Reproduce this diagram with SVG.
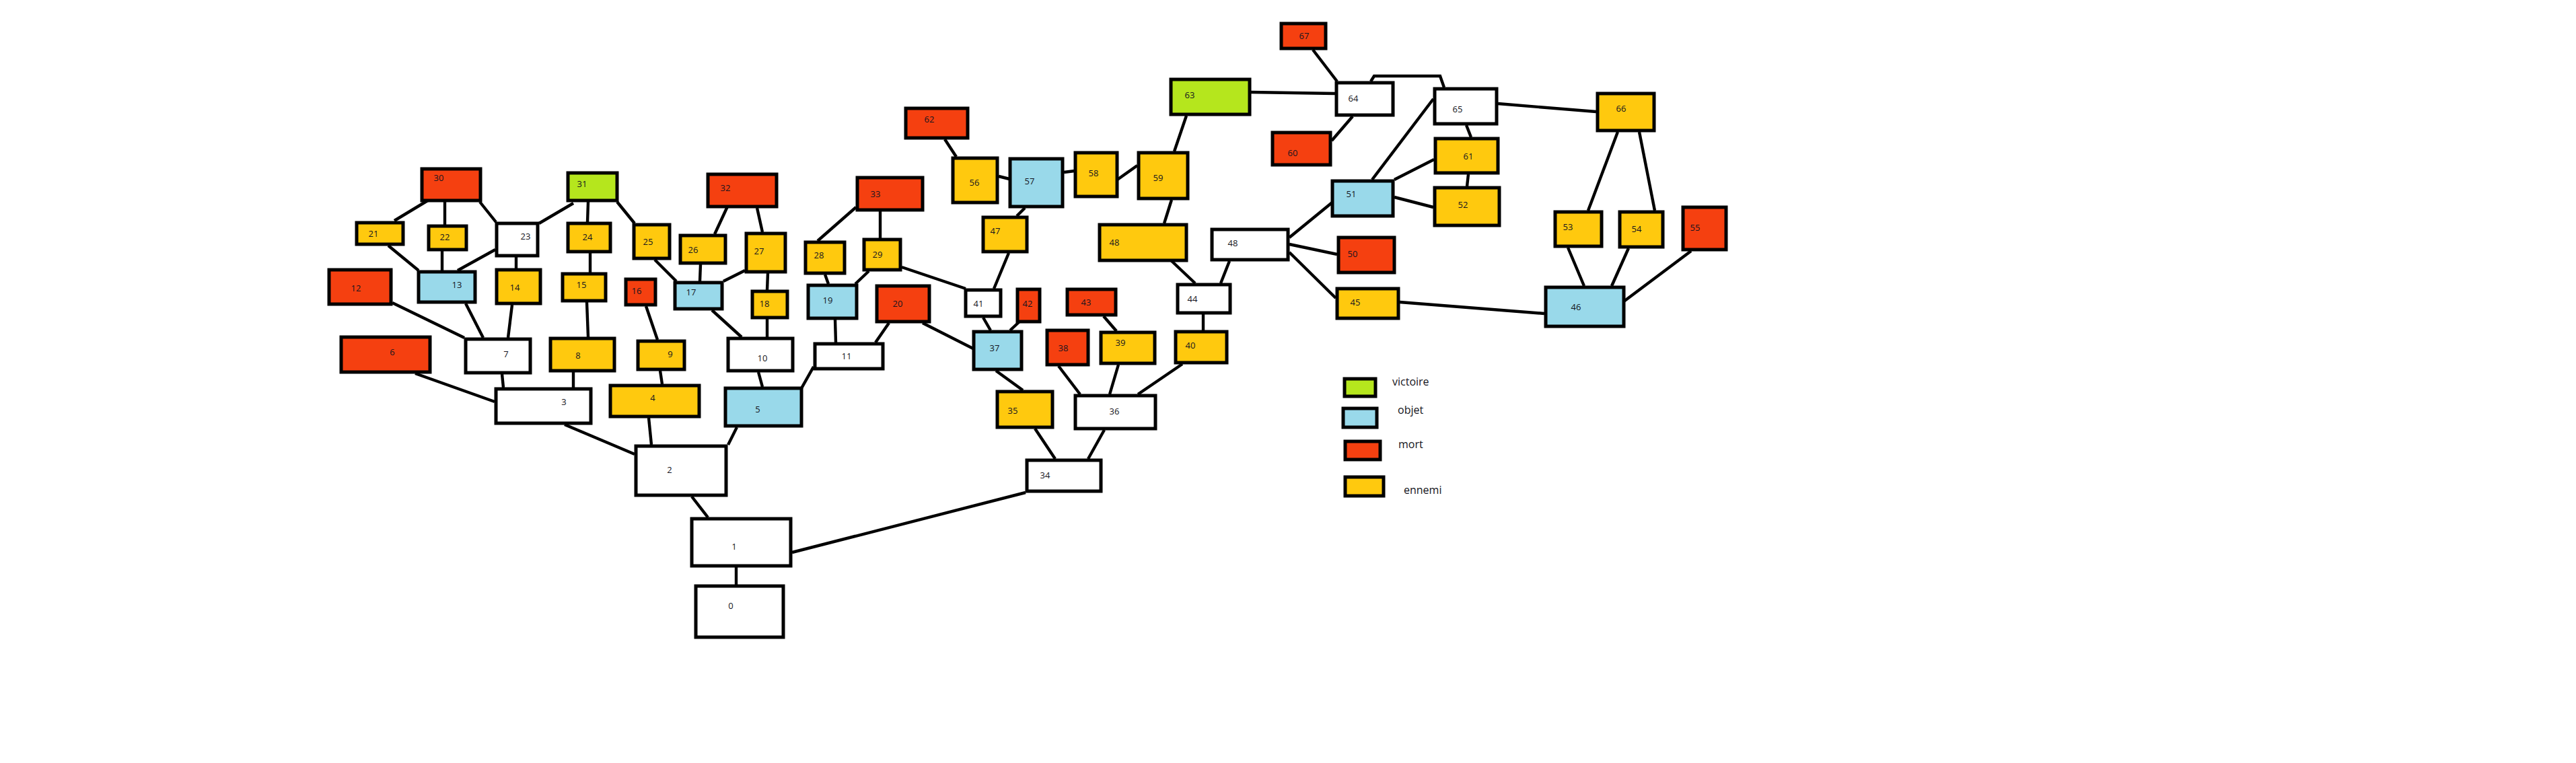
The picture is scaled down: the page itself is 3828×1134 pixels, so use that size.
<svg xmlns="http://www.w3.org/2000/svg" width="3828" height="1134" viewBox="0 0 3828 1134">
<style>
.n{stroke:#000;stroke-width:5}
.w{fill:#fff}.y{fill:#FFC90E}.r{fill:#F54010}.g{fill:#B5E61D}.b{fill:#99D9EA}
.t{font-family:"Open Sans","Noto Sans",sans-serif;font-size:13px;fill:#141420;text-anchor:middle}
.lg{font-family:"Open Sans","Noto Sans",sans-serif;font-size:16px;fill:#141420}
#connectors line,#connectors polyline{stroke:#000;stroke-width:4.4;fill:none}
</style>
<rect width="3828" height="1134" fill="#fff"/>
<g id="connectors">
<line x1="639" y1="296" x2="586" y2="328"/>
<line x1="661" y1="300" x2="661" y2="334"/>
<line x1="713" y1="300" x2="737" y2="330"/>
<line x1="852" y1="302" x2="801" y2="332"/>
<line x1="874" y1="300" x2="873" y2="330"/>
<line x1="917" y1="300" x2="943" y2="332"/>
<line x1="1081" y1="307" x2="1062" y2="348"/>
<line x1="1125" y1="309" x2="1133" y2="345"/>
<line x1="577" y1="365" x2="622" y2="402"/>
<line x1="657" y1="373" x2="657" y2="402"/>
<line x1="736" y1="371" x2="680" y2="402"/>
<line x1="767" y1="382" x2="767" y2="399"/>
<line x1="877" y1="376" x2="877" y2="405"/>
<line x1="973" y1="386" x2="1005" y2="418"/>
<line x1="1041" y1="393" x2="1040" y2="418"/>
<line x1="1107" y1="402" x2="1075" y2="418"/>
<line x1="1141" y1="406" x2="1140" y2="431"/>
<line x1="583" y1="450" x2="690" y2="502"/>
<line x1="692" y1="451" x2="718" y2="502"/>
<line x1="761" y1="453" x2="755" y2="502"/>
<line x1="872" y1="449" x2="874" y2="501"/>
<line x1="960" y1="455" x2="977" y2="505"/>
<line x1="1058" y1="461" x2="1102" y2="501"/>
<line x1="1140" y1="474" x2="1140" y2="501"/>
<line x1="1272" y1="308" x2="1215" y2="358"/>
<line x1="1308" y1="314" x2="1308" y2="354"/>
<line x1="1226" y1="408" x2="1231" y2="422"/>
<line x1="1291" y1="403" x2="1271" y2="422"/>
<line x1="1340" y1="397" x2="1435" y2="429"/>
<line x1="1241" y1="475" x2="1242" y2="509"/>
<line x1="1321" y1="480" x2="1301" y2="509"/>
<line x1="1371" y1="480" x2="1446" y2="518"/>
<line x1="1461" y1="472" x2="1472" y2="491"/>
<line x1="1515" y1="478" x2="1501" y2="491"/>
<line x1="1499" y1="376" x2="1477" y2="429"/>
<line x1="1523" y1="309" x2="1511" y2="321"/>
<line x1="1484" y1="262" x2="1500" y2="266"/>
<line x1="1581" y1="256" x2="1597" y2="254"/>
<line x1="1404" y1="207" x2="1421" y2="233"/>
<line x1="1659" y1="268" x2="1690" y2="246"/>
<line x1="1763" y1="172" x2="1745" y2="225"/>
<line x1="1741" y1="297" x2="1730" y2="332"/>
<line x1="1739" y1="386" x2="1776" y2="421"/>
<line x1="1827" y1="388" x2="1814" y2="421"/>
<line x1="1788" y1="467" x2="1788" y2="491"/>
<line x1="1640" y1="470" x2="1659" y2="492"/>
<line x1="1757" y1="541" x2="1691" y2="586"/>
<line x1="1662" y1="542" x2="1649" y2="586"/>
<line x1="1573" y1="544" x2="1605" y2="586"/>
<line x1="1480" y1="551" x2="1520" y2="580"/>
<line x1="1538" y1="637" x2="1568" y2="682"/>
<line x1="1641" y1="639" x2="1617" y2="682"/>
<line x1="1524" y1="732" x2="1177" y2="821"/>
<line x1="617" y1="555" x2="735" y2="597"/>
<line x1="746" y1="556" x2="748" y2="576"/>
<line x1="852" y1="553" x2="852" y2="576"/>
<line x1="981" y1="551" x2="984" y2="571"/>
<line x1="839" y1="631" x2="943" y2="675"/>
<line x1="964" y1="621" x2="968" y2="661"/>
<line x1="1095" y1="635" x2="1082" y2="661"/>
<line x1="1127" y1="553" x2="1133" y2="575"/>
<line x1="1209" y1="545" x2="1191" y2="577"/>
<line x1="1028" y1="738" x2="1052" y2="769"/>
<line x1="1094" y1="843" x2="1094" y2="869"/>
<line x1="1951" y1="74" x2="1987" y2="121"/>
<polyline points="1859,137 1921,138 1984,139"/>
<line x1="2010" y1="173" x2="1979" y2="209"/>
<polyline points="2037,121 2042,113 2140,113 2146,130"/>
<line x1="2130" y1="147" x2="2039" y2="267"/>
<line x1="2226" y1="154" x2="2372" y2="166"/>
<line x1="2179" y1="186" x2="2186" y2="204"/>
<line x1="2182" y1="259" x2="2180" y2="277"/>
<line x1="2131" y1="237" x2="2072" y2="267"/>
<line x1="2072" y1="293" x2="2130" y2="308"/>
<line x1="1916" y1="353" x2="1982" y2="299"/>
<line x1="1916" y1="363" x2="1987" y2="378"/>
<line x1="1916" y1="375" x2="1985" y2="443"/>
<line x1="2080" y1="449" x2="2295" y2="466"/>
<line x1="2404" y1="196" x2="2360" y2="313"/>
<line x1="2436" y1="196" x2="2459" y2="313"/>
<line x1="2330" y1="368" x2="2354" y2="425"/>
<line x1="2420" y1="369" x2="2395" y2="425"/>
<line x1="2513" y1="373" x2="2413" y2="448"/>
</g>
<g id="n0"><rect class="n w" x="1034" y="871" width="130" height="76"/><text class="t" x="1086" y="905">0</text></g>
<g id="n1"><rect class="n w" x="1028" y="771" width="147" height="70"/><text class="t" x="1091" y="817">1</text></g>
<g id="n2"><rect class="n w" x="945" y="663" width="134" height="73"/><text class="t" x="995" y="703">2</text></g>
<g id="n3"><rect class="n w" x="737" y="578" width="141" height="51"/><text class="t" x="838" y="602">3</text></g>
<g id="n4"><rect class="n y" x="907" y="573" width="132" height="46"/><text class="t" x="970" y="596">4</text></g>
<g id="n5"><rect class="n b" x="1078" y="577" width="113" height="56"/><text class="t" x="1126" y="613">5</text></g>
<g id="n6"><rect class="n r" x="507" y="501" width="132" height="52"/><text class="t" x="583" y="528">6</text></g>
<g id="n7"><rect class="n w" x="692" y="504" width="96" height="50"/><text class="t" x="752" y="531">7</text></g>
<g id="n8"><rect class="n y" x="818" y="503" width="95" height="48"/><text class="t" x="859" y="533">8</text></g>
<g id="n9"><rect class="n y" x="948" y="507" width="69" height="42"/><text class="t" x="996" y="531">9</text></g>
<g id="n10"><rect class="n w" x="1082" y="503" width="96" height="48"/><text class="t" x="1133" y="537">10</text></g>
<g id="n11"><rect class="n w" x="1211" y="511" width="101" height="37"/><text class="t" x="1258" y="534">11</text></g>
<g id="n12"><rect class="n r" x="489" y="401" width="92" height="51"/><text class="t" x="529" y="433">12</text></g>
<g id="n13"><rect class="n b" x="622" y="404" width="84" height="45"/><text class="t" x="679" y="428">13</text></g>
<g id="n14"><rect class="n y" x="738" y="401" width="65" height="50"/><text class="t" x="765" y="432">14</text></g>
<g id="n15"><rect class="n y" x="836" y="407" width="64" height="40"/><text class="t" x="864" y="428">15</text></g>
<g id="n16"><rect class="n r" x="930" y="415" width="44" height="38"/><text class="t" x="946" y="437">16</text></g>
<g id="n17"><rect class="n b" x="1003" y="420" width="70" height="39"/><text class="t" x="1027" y="439">17</text></g>
<g id="n18"><rect class="n y" x="1118" y="433" width="52" height="39"/><text class="t" x="1136" y="456">18</text></g>
<g id="n19"><rect class="n b" x="1201" y="424" width="72" height="49"/><text class="t" x="1230" y="451">19</text></g>
<g id="n20"><rect class="n r" x="1303" y="425" width="78" height="53"/><text class="t" x="1334" y="456">20</text></g>
<g id="n21"><rect class="n y" x="530" y="331" width="69" height="32"/><text class="t" x="555" y="352">21</text></g>
<g id="n22"><rect class="n y" x="637" y="336" width="56" height="35"/><text class="t" x="661" y="357">22</text></g>
<g id="n23"><rect class="n w" x="738" y="332" width="61" height="48"/><text class="t" x="781" y="356">23</text></g>
<g id="n24"><rect class="n y" x="844" y="332" width="63" height="42"/><text class="t" x="873" y="357">24</text></g>
<g id="n25"><rect class="n y" x="942" y="334" width="53" height="50"/><text class="t" x="963" y="364">25</text></g>
<g id="n26"><rect class="n y" x="1011" y="350" width="67" height="41"/><text class="t" x="1030" y="376">26</text></g>
<g id="n27"><rect class="n y" x="1109" y="347" width="58" height="57"/><text class="t" x="1128" y="378">27</text></g>
<g id="n28"><rect class="n y" x="1197" y="360" width="58" height="46"/><text class="t" x="1217" y="384">28</text></g>
<g id="n29"><rect class="n y" x="1284" y="356" width="54" height="45"/><text class="t" x="1304" y="383">29</text></g>
<g id="n30"><rect class="n r" x="627" y="251" width="87" height="47"/><text class="t" x="652" y="269">30</text></g>
<g id="n31"><rect class="n g" x="844" y="257" width="73" height="41"/><text class="t" x="865" y="278">31</text></g>
<g id="n32"><rect class="n r" x="1052" y="259" width="102" height="48"/><text class="t" x="1078" y="284">32</text></g>
<g id="n33"><rect class="n r" x="1274" y="264" width="97" height="48"/><text class="t" x="1301" y="293">33</text></g>
<g id="n34"><rect class="n w" x="1526" y="684" width="110" height="46"/><text class="t" x="1553" y="711">34</text></g>
<g id="n35"><rect class="n y" x="1482" y="582" width="82" height="53"/><text class="t" x="1505" y="615">35</text></g>
<g id="n36"><rect class="n w" x="1598" y="588" width="119" height="49"/><text class="t" x="1656" y="616">36</text></g>
<g id="n37"><rect class="n b" x="1447" y="493" width="71" height="56"/><text class="t" x="1478" y="522">37</text></g>
<g id="n38"><rect class="n r" x="1556" y="491" width="61" height="51"/><text class="t" x="1580" y="522">38</text></g>
<g id="n39"><rect class="n y" x="1636" y="494" width="80" height="46"/><text class="t" x="1665" y="514">39</text></g>
<g id="n40"><rect class="n y" x="1747" y="493" width="76" height="46"/><text class="t" x="1769" y="518">40</text></g>
<g id="n41"><rect class="n w" x="1435" y="431" width="52" height="39"/><text class="t" x="1454" y="456">41</text></g>
<g id="n42"><rect class="n r" x="1512" y="430" width="33" height="48"/><text class="t" x="1527" y="456">42</text></g>
<g id="n43"><rect class="n r" x="1586" y="430" width="72" height="38"/><text class="t" x="1614" y="454">43</text></g>
<g id="n44"><rect class="n w" x="1750" y="423" width="78" height="42"/><text class="t" x="1772" y="449">44</text></g>
<g id="n45"><rect class="n y" x="1987" y="429" width="91" height="44"/><text class="t" x="2014" y="454">45</text></g>
<g id="n46"><rect class="n b" x="2297" y="427" width="116" height="58"/><text class="t" x="2342" y="461">46</text></g>
<g id="n47"><rect class="n y" x="1461" y="323" width="65" height="51"/><text class="t" x="1479" y="348">47</text></g>
<g id="n48a"><rect class="n y" x="1634" y="334" width="129" height="53"/><text class="t" x="1656" y="365">48</text></g>
<g id="n48b"><rect class="n w" x="1801" y="341" width="113" height="45"/><text class="t" x="1832" y="366">48</text></g>
<g id="n50"><rect class="n r" x="1989" y="353" width="83" height="52"/><text class="t" x="2010" y="382">50</text></g>
<g id="n51"><rect class="n b" x="1980" y="269" width="90" height="52"/><text class="t" x="2008" y="293">51</text></g>
<g id="n52"><rect class="n y" x="2132" y="279" width="96" height="56"/><text class="t" x="2174" y="309">52</text></g>
<g id="n53"><rect class="n y" x="2311" y="315" width="69" height="51"/><text class="t" x="2330" y="342">53</text></g>
<g id="n54"><rect class="n y" x="2407" y="315" width="64" height="52"/><text class="t" x="2432" y="345">54</text></g>
<g id="n55"><rect class="n r" x="2501" y="308" width="64" height="63"/><text class="t" x="2519" y="343">55</text></g>
<g id="n56"><rect class="n y" x="1416" y="235" width="66" height="66"/><text class="t" x="1448" y="276">56</text></g>
<g id="n57"><rect class="n b" x="1501" y="236" width="78" height="71"/><text class="t" x="1530" y="274">57</text></g>
<g id="n58"><rect class="n y" x="1598" y="227" width="62" height="65"/><text class="t" x="1625" y="262">58</text></g>
<g id="n59"><rect class="n y" x="1692" y="227" width="73" height="68"/><text class="t" x="1721" y="269">59</text></g>
<g id="n60"><rect class="n r" x="1891" y="197" width="86" height="48"/><text class="t" x="1921" y="232">60</text></g>
<g id="n61"><rect class="n y" x="2133" y="206" width="93" height="51"/><text class="t" x="2182" y="237">61</text></g>
<g id="n62"><rect class="n r" x="1346" y="161" width="92" height="44"/><text class="t" x="1381" y="182">62</text></g>
<g id="n63"><rect class="n g" x="1740" y="118" width="117" height="52"/><text class="t" x="1768" y="146">63</text></g>
<g id="n64"><rect class="n w" x="1986" y="123" width="84" height="48"/><text class="t" x="2011" y="151">64</text></g>
<g id="n65"><rect class="n w" x="2132" y="132" width="92" height="52"/><text class="t" x="2166" y="167">65</text></g>
<g id="n66"><rect class="n y" x="2374" y="139" width="84" height="55"/><text class="t" x="2409" y="166">66</text></g>
<g id="n67"><rect class="n r" x="1904" y="35" width="66" height="37"/><text class="t" x="1938" y="58">67</text></g>
<g id="legend">
<rect class="n g" x="1998" y="563" width="46" height="26"/><text class="lg" x="2069" y="573">victoire</text>
<rect class="n b" x="1996" y="607" width="50" height="28"/><text class="lg" x="2077" y="615">objet</text>
<rect class="n r" x="1999" y="656" width="52" height="27"/><text class="lg" x="2078" y="666">mort</text>
<rect class="n y" x="1999" y="709" width="57" height="28"/><text class="lg" x="2086" y="734">ennemi</text>
</g>
</svg>
